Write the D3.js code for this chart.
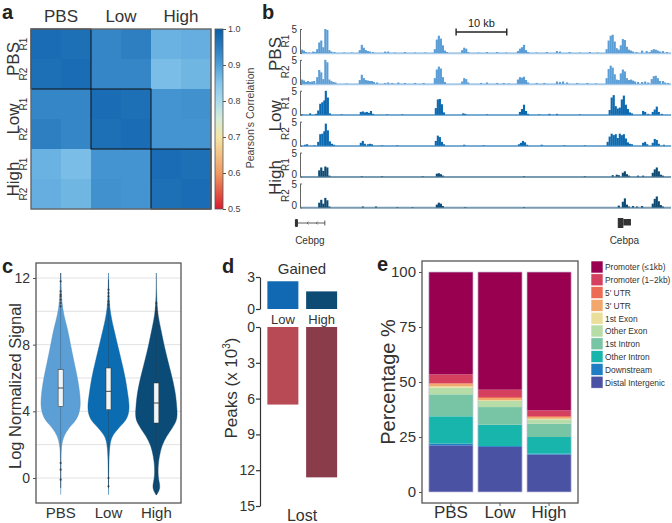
<!DOCTYPE html>
<html><head><meta charset="utf-8">
<script src="https://cdn.jsdelivr.net/npm/d3@7"></script>
<style>
body{margin:0;background:#fff;}
svg{display:block;font-family:"Liberation Sans",Arial,Helvetica,sans-serif;}
</style></head>
<body>
<svg id="fig" width="672" height="523"></svg>
<script>
// ---------------- DATA ----------------
// panel a
const samples = ["PBS R1","PBS R2","Low R1","Low R2","High R1","High R2"];
const groups = ["PBS","Low","High"];
const reps = ["R1","R2"];
const corrRows = [
  [0.975,0.970,0.935,0.945,0.875,0.880],
  [0.970,0.975,0.935,0.935,0.860,0.870],
  [0.935,0.935,0.975,0.970,0.915,0.920],
  [0.945,0.935,0.970,0.975,0.915,0.915],
  [0.875,0.860,0.915,0.915,0.975,0.970],
  [0.880,0.870,0.920,0.915,0.970,0.975]
];
const colorbarTicks = [0.5,0.6,0.7,0.8,0.9,1.0];

// panel b  (genomic position in kb, signal)
const pbsR1 = [[0.2,0.7],[0.6,0.5],[1.0,0.2],[1.6,0.1],[2.4,0.3],[2.8,0.2],[3.2,0.8],[3.6,2.2],[4.0,2.6],[4.4,1.2],[4.8,5.0],[5.2,4.8],[5.6,0.6],[6.0,0.3],[6.6,0.2],[8.5,0.1],[10.0,0.1],[11.6,0.6],[12.0,1.7],[12.4,1.1],[12.8,0.6],[13.2,0.4],[13.6,0.3],[14.2,0.2],[16.6,0.3],[17.2,0.3],[18.5,0.1],[20.5,0.2],[22.5,0.1],[24.5,0.1],[26.4,0.8],[26.8,2.8],[27.2,3.6],[27.6,3.0],[28.0,1.6],[28.4,0.5],[28.8,0.2],[31.8,0.6],[32.2,1.1],[32.6,0.9],[33.0,0.2],[35.0,0.1],[36.7,0.2],[38.7,0.2],[40.5,0.1],[42.8,0.4],[43.2,0.9],[43.6,1.2],[44.0,1.7],[44.4,0.6],[44.8,0.2],[46.5,0.1],[48.5,0.2],[50.5,0.4],[51.1,0.3],[53.0,0.2],[55.0,0.1],[57.0,0.2],[58.5,0.1],[60.3,0.8],[60.7,2.6],[61.1,3.6],[61.5,3.8],[61.9,2.4],[62.3,1.0],[62.7,0.7],[63.1,1.6],[63.5,2.9],[63.9,2.7],[64.3,1.3],[64.7,0.7],[65.1,0.5],[65.5,0.3],[66.2,0.2],[67.3,0.5],[68.2,0.4],[68.8,0.2],[69.2,0.6],[69.6,0.8],[70.0,0.7],[70.4,0.5],[70.8,0.3],[71.4,0.4],[72.2,0.2]];
const pbsR2 = [[0.2,0.9],[0.6,0.7],[1.0,0.4],[1.4,0.6],[1.8,0.4],[2.2,0.5],[2.6,0.6],[3.2,1.4],[3.6,2.9],[4.0,2.4],[4.4,1.0],[4.8,5.0],[5.2,4.5],[5.6,0.9],[6.0,0.6],[6.4,0.4],[6.8,0.3],[9.0,0.1],[11.6,0.8],[12.0,1.9],[12.4,1.2],[12.8,0.8],[13.2,0.7],[13.6,0.6],[14.0,0.6],[14.4,0.4],[15.0,0.3],[16.6,0.2],[17.2,0.3],[18.0,0.2],[19.2,0.3],[20.5,0.2],[22.5,0.2],[24.2,0.2],[26.4,1.2],[26.8,3.0],[27.2,3.6],[27.6,3.2],[28.0,1.4],[28.4,0.4],[31.8,0.5],[32.2,1.2],[32.6,1.0],[33.0,0.3],[35.5,0.2],[36.7,0.3],[38.7,0.2],[40.0,0.2],[41.0,0.1],[42.8,0.9],[43.2,1.4],[43.6,1.3],[44.0,1.5],[44.4,0.8],[44.8,0.3],[46.5,0.2],[48.0,0.2],[50.5,0.5],[51.1,0.4],[51.7,0.5],[52.5,0.3],[54.5,0.2],[56.5,0.2],[58.2,0.1],[60.3,1.2],[60.7,3.1],[61.1,3.8],[61.5,3.4],[61.9,2.0],[62.3,0.9],[62.7,0.8],[63.1,2.2],[63.5,3.0],[63.9,2.6],[64.3,1.2],[64.7,0.8],[65.1,0.9],[65.5,0.7],[65.9,0.5],[66.5,0.4],[67.3,0.4],[67.9,0.5],[68.5,0.3],[69.2,1.0],[69.6,1.6],[70.0,1.7],[70.4,1.2],[70.8,0.6],[71.4,0.6],[71.8,0.3],[72.4,0.2]];
const lowR1 = [[0.2,0.1],[1.8,0.3],[3.0,0.2],[3.4,0.9],[3.8,2.3],[4.2,2.6],[4.6,3.0],[4.9,5.0],[5.3,3.6],[5.7,0.3],[8.0,0.1],[11.8,0.6],[12.2,0.7],[12.6,0.5],[13.0,0.6],[13.4,0.4],[13.8,0.8],[14.2,0.2],[17.0,0.1],[20.0,0.1],[26.6,1.4],[27.0,3.2],[27.4,3.3],[27.8,2.2],[28.2,0.5],[32.0,0.3],[32.4,0.2],[36.7,0.1],[43.2,0.6],[43.6,1.2],[44.0,2.1],[44.4,0.8],[44.8,0.2],[47.0,0.1],[49.0,0.2],[50.5,0.2],[55.0,0.1],[60.9,1.0],[61.3,3.6],[61.7,4.1],[62.1,1.8],[62.5,1.3],[62.9,1.5],[63.3,3.2],[63.7,4.0],[64.1,2.1],[64.5,1.2],[64.9,0.5],[65.3,0.3],[67.5,0.8],[67.9,0.6],[68.5,0.2],[69.4,0.6],[69.8,1.1],[70.2,1.7],[70.6,0.6],[71.2,0.2]];
const lowR2 = [[0.8,0.2],[1.2,0.3],[2.6,0.1],[3.4,0.8],[3.8,2.4],[4.2,2.5],[4.6,3.0],[4.9,4.6],[5.3,3.2],[5.7,0.9],[6.1,0.4],[6.5,0.2],[11.8,0.6],[12.2,1.0],[12.6,0.4],[13.2,0.3],[13.6,0.4],[14.0,0.3],[16.0,0.1],[19.0,0.1],[26.6,1.0],[27.0,2.1],[27.4,1.8],[27.8,0.8],[28.2,0.3],[32.2,0.2],[36.0,0.1],[43.0,0.3],[43.4,0.6],[43.8,1.0],[44.2,0.7],[44.6,0.2],[47.5,0.2],[52.0,0.1],[56.0,0.1],[60.5,0.8],[60.9,1.9],[61.3,2.5],[61.7,2.2],[62.1,2.4],[62.5,1.6],[62.9,2.5],[63.3,2.2],[63.7,2.4],[64.1,1.5],[64.5,0.7],[64.9,0.4],[65.3,0.3],[67.5,0.6],[67.9,0.8],[68.3,0.3],[69.4,0.6],[69.8,1.4],[70.2,1.2],[70.6,0.4],[71.6,0.2]];
const highR1 = [[3.6,1.3],[4.0,1.9],[4.4,1.2],[4.8,2.1],[5.2,1.9],[5.6,0.2],[12.0,0.1],[16.0,0.1],[24.0,0.1],[26.8,0.6],[27.2,0.7],[27.6,0.5],[28.0,0.2],[44.0,0.1],[56.0,0.1],[61.5,0.3],[62.3,0.4],[62.7,0.3],[63.5,0.8],[63.9,1.1],[64.3,0.5],[64.7,0.2],[66.5,0.2],[67.5,0.2],[69.4,0.8],[69.8,1.5],[70.2,1.9],[70.6,1.1],[71.0,0.4],[71.4,0.2]];
const highR2 = [[3.6,1.0],[4.0,1.6],[4.4,0.8],[4.8,2.0],[5.2,1.5],[5.6,0.2],[12.2,0.2],[14.8,0.2],[19.0,0.1],[22.0,0.1],[26.8,0.6],[27.2,1.0],[27.6,0.8],[28.0,0.3],[32.4,0.1],[44.0,0.1],[62.7,0.4],[63.5,1.2],[63.9,1.9],[64.3,0.6],[64.7,0.2],[65.5,0.3],[66.3,0.2],[67.3,0.3],[69.4,0.8],[69.8,1.8],[70.2,2.3],[70.6,1.3],[71.0,0.5],[71.4,0.2]];
const trackSignals = [pbsR1, pbsR2, lowR1, lowR2, highR1, highR2];
const trackTicks = [0,5];
const scaleBar = {startKb:30.6, lengthKb:10, label:"10 kb"};
const genes = [
  {name:"Cebpg", thick:[-1.2,-0.6], thin:[-0.6,4.7]},
  {name:"Cebpa", thick:[62.5,63.6], mid:[63.6,65.1]}
];

// panel c
const violinGroups = ["PBS","Low","High"];
const violinLevels = [-1.0,-0.6,-0.2,0.3,1.0,1.6,2.0,2.5,3.0,3.4,3.8,4.3,5.0,5.9,7.0,8.0,9.0,9.8,10.6,11.5,12.3];
const pbsDensity  = [0,0,0,0,0.01,0.02,0.05,0.14,0.38,0.70,0.86,0.95,0.92,0.82,0.63,0.47,0.32,0.14,0.05,0.02,0];
const lowDensity  = [0,0,0,0.01,0.02,0.04,0.07,0.15,0.48,0.80,0.95,1.00,0.92,0.82,0.62,0.43,0.24,0.10,0.03,0.01,0];
const highDensity = [0.02,0.20,0.12,0.07,0.10,0.19,0.28,0.48,0.76,0.95,1.00,0.97,0.92,0.78,0.55,0.36,0.20,0.07,0.02,0,0];
const boxQuartiles = [[4.3,5.4,6.5],[4.1,5.2,6.6],[3.3,4.5,5.7]];
const whiskerRange = [[-0.6,12.3],[-0.6,11.9],[-1.0,10.6]];
const outliers = [[10.3,10.5,10.7,10.9,11.0,11.2,11.8,0.9,0.5,-0.1],[10.4,10.6,10.9,11.1,11.3,0.0,-0.5],[9.6,9.8,10.0,10.2,10.5]];
const violinTicks = [0,4,8,12];
const violinGrid = [0,2,4,6,8,10,12];

// panel d
const peakGroups = ["Low","High"];
const gainedPeaks = [2.6,1.65];
const lostPeaks = [6.5,12.6];
const gainedTicks = [0,3];
const lostTicks = [0,3,6,9,12,15];

// panel e
const annoSamples = ["PBS","Low","High"];
const annoKeys = ["Distal Intergenic","Downstream","Other Intron","1st Intron","Other Exon","1st Exon","3' UTR","5' UTR","Promoter (1\u22122kb)","Promoter (\u22641kb)"];
const annoPBS  = [21.2,0.8,12.4,10.0,3.0,0.6,1.2,0.3,4.0,46.5];
const annoLow  = [20.5,0.4,9.7,8.0,2.8,0.3,1.0,0.5,3.3,53.5];
const annoHigh = [17.0,0.4,7.6,6.1,1.9,0.3,0.8,0.4,2.6,62.9];
const annoColors = ["#4a52a3","#1f7dc4","#18b5ad","#78c5a5","#b6dca7","#e9df9b","#f2a76c","#ec6b52","#d5405f","#99004f"];
const annoTicks = [0,25,50,75,100];

// ---------------- DRAW ----------------
const svg = d3.select("#fig");
const TXT = "#333";
const FONT = "Liberation Sans, Arial, sans-serif";

function letter(t,x,y){svg.append("text").attr("x",x).attr("y",y).attr("font-size",20).attr("font-weight","bold").attr("fill","#222").text(t);}
function rotText(g,t,x,y,size,anchor){return g.append("text").attr("transform",`translate(${x},${y}) rotate(-90)`).attr("text-anchor",anchor||"middle").attr("font-size",size).attr("fill",TXT).text(t);}

// ===== a =====
letter("a",2,19);
const hx = d3.scaleBand().domain(samples).range([31,211]);
const hy = d3.scaleBand().domain(samples).range([29,209]);
const corrColor = d3.scaleLinear()
  .domain([0.5,0.6,0.7,0.75,0.8,0.85,0.9,0.95,1.0])
  .range(["#db1b2c","#ef9a63","#f4e6a6","#d6ecd8","#a9dbee","#85c5ea","#4f9fd8","#2a7bc0","#0a5fa8"]);
const ga = svg.append("g");
corrRows.forEach((row,i)=>row.forEach((v,j)=>{
  ga.append("rect").attr("x",hx(samples[j])).attr("y",hy(samples[i]))
    .attr("width",hx.bandwidth()+0.3).attr("height",hy.bandwidth()+0.3).attr("fill",corrColor(v));
}));
groups.forEach((g,k)=>{
  ga.append("rect").attr("x",hx(samples[2*k])).attr("y",hy(samples[2*k]))
    .attr("width",hx.bandwidth()*2).attr("height",hy.bandwidth()*2)
    .attr("fill","none").attr("stroke","#111").attr("stroke-width",1);
  ga.append("text").attr("x",hx(samples[2*k])+hx.bandwidth()).attr("y",22)
    .attr("text-anchor","middle").attr("font-size",17).attr("fill",TXT).text(g);
  rotText(ga,g,19,hy(samples[2*k])+hy.bandwidth(),17);
  reps.forEach((r,m)=>rotText(ga,r,27,hy(samples[2*k+m])+hy.bandwidth()/2,10));
});
ga.append("rect").attr("x",31).attr("y",29).attr("width",180).attr("height",180)
  .attr("fill","none").attr("stroke","#666").attr("stroke-width",1.4);
// colorbar
const cbScale = d3.scaleLinear().domain([0.5,1.0]).range([209,29]);
const grad = svg.append("defs").append("linearGradient").attr("id","cb").attr("x1",0).attr("y1",1).attr("x2",0).attr("y2",0);
d3.range(0,1.0001,0.05).forEach(t=>grad.append("stop").attr("offset",t).attr("stop-color",corrColor(0.5+0.5*t)));
ga.append("rect").attr("x",215).attr("y",29).attr("width",8).attr("height",180).attr("fill","url(#cb)").attr("stroke","#555").attr("stroke-width",0.8);
const cbAxis = ga.append("g").attr("transform","translate(223,0)")
  .call(d3.axisRight(cbScale).tickValues(colorbarTicks).tickFormat(d3.format(".1f")).tickSize(3));
cbAxis.select(".domain").remove();
cbAxis.selectAll("line").attr("stroke","#555");
cbAxis.selectAll("text").attr("font-size",9).attr("fill","#444").attr("font-family",FONT).attr("x",5);
rotText(ga,"Pearson's Correlation",254,118,10.5).attr("fill","#444");

// ===== b =====
letter("b",262,19);
const gb = svg.append("g");
const tx = d3.scaleLinear().domain([0,73]).range([301,671]);
const trackColors = ["#5b9dd5","#5b9dd5","#0b69b0","#0b69b0","#0c4a74","#0c4a74"];
const binW = tx(0.42)-tx(0);
trackSignals.forEach((sig,i)=>{
  const base = 53 + 30.9*i;
  const ty = d3.scaleLinear().domain([0,5]).range([base,base-24]).clamp(true);
  const g = gb.append("g");
  g.append("line").attr("x1",301).attr("x2",671).attr("y1",base+0.3).attr("y2",base+0.3)
    .attr("stroke",trackColors[i]).attr("stroke-opacity",0.55).attr("stroke-width",2);
  g.selectAll("rect").data(sig).join("rect")
    .attr("x",d=>tx(d[0])-binW/2).attr("width",binW)
    .attr("y",d=>ty(d[1])).attr("height",d=>base-ty(d[1]))
    .attr("fill",trackColors[i]);
  const ax = g.append("g").attr("transform","translate(300,0)")
    .call(d3.axisRight(ty).tickValues(trackTicks).tickSize(2).tickSizeOuter(0).tickFormat(""));
  ax.select(".domain").attr("stroke","#666");
  ax.selectAll("line").attr("stroke","#666");
  trackTicks.forEach(t=>g.append("text").attr("x",297).attr("y",ty(t)+(t===0?1:4))
    .attr("text-anchor","end").attr("font-size",10).attr("fill",TXT).text(t));
  rotText(g,reps[i%2],289,base-12,10);
});
groups.forEach((gname,k)=>{
  rotText(gb,gname,281,53+30.9*(2*k)+1,17);
});
const sb0 = tx(scaleBar.startKb), sb1 = tx(scaleBar.startKb+scaleBar.lengthKb);
gb.append("line").attr("x1",sb0).attr("x2",sb1).attr("y1",32).attr("y2",32).attr("stroke","#222").attr("stroke-width",1.4);
[sb0,sb1].forEach(x=>gb.append("line").attr("x1",x).attr("x2",x).attr("y1",28.5).attr("y2",35.5).attr("stroke","#222").attr("stroke-width",1.4));
gb.append("text").attr("x",(sb0+sb1)/2).attr("y",27).attr("text-anchor","middle").attr("font-size",11).attr("fill","#222").text(scaleBar.label);
const gy = 223;
const cebpg = genes[0];
gb.append("line").attr("x1",tx(cebpg.thin[0])).attr("x2",tx(cebpg.thin[1])).attr("y1",gy).attr("y2",gy).attr("stroke","#333").attr("stroke-width",0.8);
gb.append("rect").attr("x",tx(cebpg.thick[0])).attr("y",gy-4).attr("width",tx(cebpg.thick[1])-tx(cebpg.thick[0])).attr("height",8).attr("rx",1).attr("fill","#333");
gb.append("line").attr("x1",tx(cebpg.thin[1])).attr("x2",tx(cebpg.thin[1])).attr("y1",gy-2.5).attr("y2",gy+2.5).attr("stroke","#333").attr("stroke-width",0.8);
[1.2,3.0].forEach(p=>gb.append("path").attr("d",`M${tx(p)+1.5},${gy-1.5}L${tx(p)},${gy}L${tx(p)+1.5},${gy+1.5}`).attr("fill","none").attr("stroke","#333").attr("stroke-width",0.6));
const cebpa = genes[1];
gb.append("rect").attr("x",tx(cebpa.thick[0])).attr("y",gy-5).attr("width",tx(cebpa.thick[1])-tx(cebpa.thick[0])).attr("height",10).attr("fill","#333");
gb.append("rect").attr("x",tx(cebpa.mid[0])).attr("y",gy-4).attr("width",tx(cebpa.mid[1])-tx(cebpa.mid[0])).attr("height",6.5).attr("fill","#333");
gb.append("text").attr("x",tx((cebpg.thick[0]+cebpg.thin[1])/2)).attr("y",244).attr("text-anchor","middle").attr("font-size",10).attr("fill",TXT).text(cebpg.name);
gb.append("text").attr("x",tx((cebpa.thick[0]+cebpa.mid[1])/2)).attr("y",244).attr("text-anchor","middle").attr("font-size",10).attr("fill",TXT).text(cebpa.name);

// ===== c =====
letter("c",2,273);
const gc = svg.append("g");
const cy = d3.scaleLinear().domain([-1.5,12.9]).range([503,263]);
const cx = d3.scaleBand().domain(violinGroups).range([36,181]).paddingInner(0.07).paddingOuter(0.05);
const wScale = d3.scaleLinear().domain([0,1]).range([0,21]);
violinGrid.forEach(v=>gc.append("line").attr("x1",36).attr("x2",181).attr("y1",cy(v)).attr("y2",cy(v)).attr("stroke","#e2e2e2").attr("stroke-width",1));
const vColors = ["#5b9fd6","#0b6cb2","#0b4b78"];
const densities = [pbsDensity,lowDensity,highDensity];
violinGroups.forEach((g,i)=>{
  const c = cx(g)+cx.bandwidth()/2;
  const pts = violinLevels.map((v,k)=>({v, d:densities[i][k]}));
  const area = d3.area().curve(d3.curveBasis)
    .y(d=>cy(d.v)).x0(d=>c-wScale(d.d)).x1(d=>c+wScale(d.d));
  gc.append("line").attr("x1",c).attr("x2",c).attr("y1",cy(whiskerRange[i][0])).attr("y2",cy(whiskerRange[i][1])).attr("stroke","#444").attr("stroke-width",0.7);
  gc.append("path").attr("d",area(pts)).attr("fill",vColors[i]).attr("stroke",d3.color(vColors[i]).darker(0.4)).attr("stroke-width",0.4);
  gc.append("line").attr("x1",c).attr("x2",c).attr("y1",cy(whiskerRange[i][0])).attr("y2",cy(whiskerRange[i][1])).attr("stroke","#333").attr("stroke-width",0.5).attr("stroke-opacity",0.6);
  const q = boxQuartiles[i];
  gc.append("rect").attr("x",c-2.5).attr("width",5).attr("y",cy(q[2])).attr("height",cy(q[0])-cy(q[2])).attr("fill","#eef6f9").attr("stroke","#333").attr("stroke-width",0.5);
  gc.append("line").attr("x1",c-2.5).attr("x2",c+2.5).attr("y1",cy(q[1])).attr("y2",cy(q[1])).attr("stroke","#333").attr("stroke-width",0.9);
  outliers[i].forEach(o=>gc.append("circle").attr("cx",c).attr("cy",cy(o)).attr("r",1.1).attr("fill","#333").attr("fill-opacity",0.8));
  gc.append("text").attr("x",c).attr("y",518).attr("text-anchor","middle").attr("font-size",15).attr("fill",TXT).text(g);
});
gc.append("rect").attr("x",36).attr("y",263).attr("width",145).attr("height",240).attr("fill","none").attr("stroke","#555").attr("stroke-width",1.3);
const cAx = gc.append("g").attr("transform","translate(36,0)").call(d3.axisLeft(cy).tickValues(violinTicks).tickSize(3));
cAx.select(".domain").remove();
cAx.selectAll("line").attr("stroke","#555");
cAx.selectAll("text").attr("font-size",14).attr("fill",TXT).attr("font-family",FONT);
rotText(gc,"Log Normalized Signal",21,386,16.5);

// ===== d =====
letter("d",222,273);
const gd = svg.append("g");
const dx = d3.scaleBand().domain(peakGroups).range([263.5,341]).paddingInner(0.2).paddingOuter(0.1);
const yG = d3.scaleLinear().domain([0,3]).range([309,277]);
const yL = d3.scaleLinear().domain([0,15]).range([327,506]);
const gainCol = ["#1069b2","#0d4a74"], lostCol = ["#b84a56","#8b3c4b"];
peakGroups.forEach((g,i)=>{
  gd.append("rect").attr("x",dx(g)).attr("width",dx.bandwidth()).attr("y",yG(gainedPeaks[i])).attr("height",yG(0)-yG(gainedPeaks[i])).attr("fill",gainCol[i]);
  gd.append("rect").attr("x",dx(g)).attr("width",dx.bandwidth()).attr("y",yL(0)).attr("height",yL(lostPeaks[i])-yL(0)).attr("fill",lostCol[i]);
  gd.append("text").attr("x",dx(g)+dx.bandwidth()/2).attr("y",324).attr("text-anchor","middle").attr("font-size",13).attr("fill",TXT).text(g);
});
[[yG,gainedTicks],[yL,lostTicks]].forEach(([s,t])=>{
  const a = gd.append("g").attr("transform","translate(260,0)").call(d3.axisLeft(s).tickValues(t).tickFormat(d3.format("d")).tickSize(4).tickSizeOuter(0));
  a.select(".domain").attr("stroke","#333").attr("stroke-width",1.2);
  a.selectAll("line").attr("stroke","#333").attr("stroke-width",1.2);
  a.selectAll("text").attr("font-size",14).attr("fill",TXT).attr("font-family",FONT).attr("x",-5);
});
gd.append("text").attr("x",302).attr("y",274).attr("text-anchor","middle").attr("font-size",15).attr("fill",TXT).text("Gained");
gd.append("text").attr("x",302).attr("y",521).attr("text-anchor","middle").attr("font-size",16).attr("fill",TXT).text("Lost");
const pl = rotText(gd,"",237,388,17);
pl.text("Peaks (x 10");
pl.append("tspan").attr("font-size",10).attr("dy",-7).text("3");
pl.append("tspan").attr("dy",7).text(")");

// ===== e =====
letter("e",377,271);
const ge = svg.append("g");
const ex = d3.scaleBand().domain(annoSamples).range([422,578]).paddingInner(0.1).paddingOuter(0.14);
const ey = d3.scaleLinear().domain([0,100]).range([492,272]);
const annoTable = annoSamples.map((s,i)=>{
  const vals=[annoPBS,annoLow,annoHigh][i]; const o={sample:s};
  annoKeys.forEach((k,j)=>o[k]=vals[j]); return o;
});
const stacked = d3.stack().keys(annoKeys)(annoTable);
stacked.forEach((layer,j)=>{
  ge.append("g").selectAll("rect").data(layer).join("rect")
    .attr("x",d=>ex(d.data.sample)).attr("width",ex.bandwidth())
    .attr("y",d=>ey(d[1])).attr("height",d=>ey(d[0])-ey(d[1]))
    .attr("fill",annoColors[j]);
});
annoSamples.forEach(s=>{
  ge.append("rect").attr("x",ex(s)).attr("y",ey(100)).attr("width",ex.bandwidth()).attr("height",ey(0)-ey(100))
    .attr("fill","none").attr("stroke","#c9c3e0").attr("stroke-width",0.7);
});
ge.append("rect").attr("x",422).attr("y",261).attr("width",156).attr("height",242).attr("fill","none").attr("stroke","#555").attr("stroke-width",1.3);
const eAx = ge.append("g").attr("transform","translate(422,0)").call(d3.axisLeft(ey).tickValues(annoTicks).tickSize(3));
eAx.select(".domain").remove();
eAx.selectAll("line").attr("stroke","#555");
eAx.selectAll("text").attr("font-size",15).attr("fill",TXT).attr("font-family",FONT);
const eBx = ge.append("g").attr("transform","translate(0,503)").call(d3.axisBottom(ex).tickSize(3));
eBx.select(".domain").remove();
eBx.selectAll("line").attr("stroke","#555");
eBx.selectAll("text").attr("font-size",17).attr("fill",TXT).attr("font-family",FONT).attr("y",3);
rotText(ge,"Percentage %",395,382,20);
const legKeys = annoKeys.slice().reverse(), legCols = annoColors.slice().reverse();
legKeys.forEach((k,i)=>{
  const y = 261 + i*12.8;
  ge.append("rect").attr("x",591).attr("y",y).attr("width",12).attr("height",12).attr("fill",legCols[i]).attr("stroke","#fff").attr("stroke-width",0.6);
  ge.append("text").attr("x",605).attr("y",y+9.3).attr("font-size",8.4).attr("fill",TXT).text(k);
});
</script>
</body></html>
